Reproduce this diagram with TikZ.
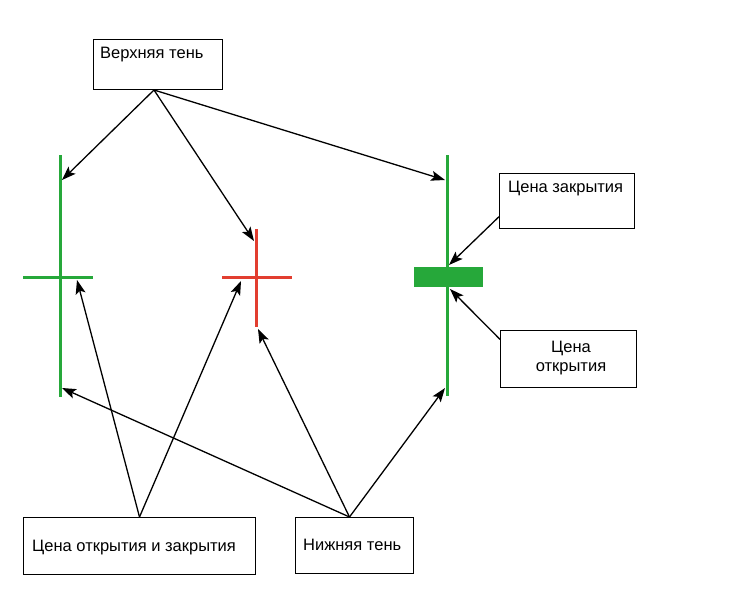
\documentclass[tikz,border=0pt]{standalone}
\usepackage{fontspec}
\setmainfont{Liberation Sans}
\usetikzlibrary{arrows.meta}
\definecolor{candlegreen}{RGB}{38,168,58}
\definecolor{candlered}{RGB}{226,62,48}
\begin{document}
\begin{tikzpicture}[x=1pt,y=-1pt,>={Stealth[length=14pt,width=10pt,inset=3pt]},
    box/.style={shape=rectangle,draw=black,line width=1pt,anchor=north west,inner sep=0pt},
    boxtext/.style={anchor=west,inner sep=0pt,font=\fontsize{16.5}{19}\selectfont},
    wick/.style={line width=3pt},
    pointer/.style={->,line width=1.3pt}]
  \useasboundingbox (0,0) rectangle (737,616);

  % label boxes
  \node[box,minimum width=129pt,minimum height=50pt] (upper) at (93,39) {};
  \node[boxtext] (uppertext) at (100,55) {Верхняя тень};
  \node[box,minimum width=135pt,minimum height=55pt] (closebox) at (499,173) {};
  \node[boxtext] (closetext) at (508,189) {Цена закрытия};
  \node[box,minimum width=136pt,minimum height=57pt] (openbox) at (500,330) {};
  \node[boxtext,anchor=center,align=center] (opentext) at (571,358) {Цена\\открытия};
  \node[box,minimum width=232pt,minimum height=57pt] (dojibox) at (23,517) {};
  \node[boxtext] (dojitext) at (32,548) {Цена открытия и закрытия};
  \node[box,minimum width=118pt,minimum height=56pt] (lower) at (295,517) {};
  \node[boxtext] (lowertext) at (303,545) {Нижняя тень};

  % candles
  \draw[wick,candlegreen] (60,155) -- (60,397);
  \draw[wick,candlegreen] (23,277) -- (93,277);
  \draw[wick,candlered] (256,229) -- (256,327);
  \draw[wick,candlered] (222,277) -- (292,277);
  \draw[wick,candlegreen] (447,155) -- (447,396);
  \fill[candlegreen] (414,267) rectangle (483,287);

  % arrow ends
  \coordinate (utop) at ([xshift=-4pt]upper.south);
  \coordinate (ltop) at (62,180);
  \coordinate (lbottom) at (62,388);
  \coordinate (larm) at (77,280);
  \coordinate (mtop) at (254,241);
  \coordinate (marm) at (241,281);
  \coordinate (mbottom) at (258,329);
  \coordinate (rtop) at (445,180);
  \coordinate (rclose) at (449,265);
  \coordinate (ropen) at (450,289);
  \coordinate (rbottom) at (445,388);

  \draw[pointer] (utop) -- (ltop);
  \draw[pointer] (utop) -- (mtop);
  \draw[pointer] (utop) -- (rtop);
  \draw[pointer] (closebox.193) -- (rclose);
  \draw[pointer] (openbox.164) -- (ropen);
  \draw[pointer] (dojibox.north) -- (larm);
  \draw[pointer] (dojibox.north) -- (marm);
  \draw[pointer] ([xshift=-5pt]lower.north) -- (lbottom);
  \draw[pointer] ([xshift=-5pt]lower.north) -- (mbottom);
  \draw[pointer] ([xshift=-5pt]lower.north) -- (rbottom);
\end{tikzpicture}
\end{document}
